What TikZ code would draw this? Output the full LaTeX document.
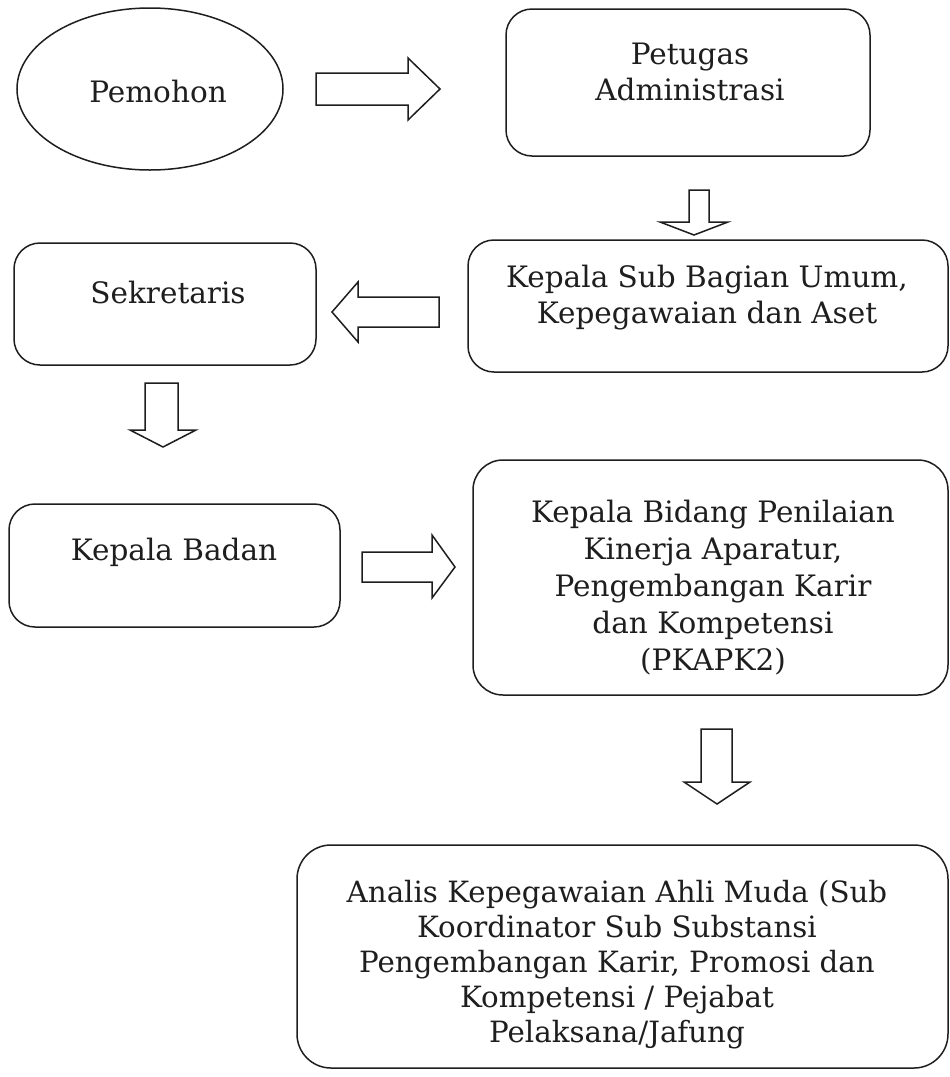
\documentclass[tikz,border=0pt]{standalone}
\usepackage{fontspec}
\setmainfont{DejaVu Serif}
\usetikzlibrary{shapes.geometric}
\definecolor{ink}{HTML}{1E1E1E}
\begin{document}
\begin{tikzpicture}[x=1pt,y=-1pt,
  box/.style={draw=ink, line width=1.5pt, rounded corners=26pt},
  txt/.style={align=center, text=ink, font=\fontsize{29.5}{35.5}\selectfont, inner sep=0pt, anchor=base},
  blockarrow/.style={draw=ink, line width=1.5pt, fill=white, line join=miter}]
\useasboundingbox (0,0) rectangle (950,1077);
\fill[white] (0,0) rectangle (950,1077);

% Pemohon
\node[draw=ink, line width=1.5pt, ellipse, minimum width=266pt, minimum height=162pt, inner sep=0pt] (pemohon) at (150,89) {};
\node[txt] (pemohon-t) at (158,102) {Pemohon};

% Petugas Administrasi
\draw[box] (506,9) rectangle (870,156);
\node[txt] (petugas-t) at (690,100) {Petugas\\Administrasi};

% Kepala Sub Bagian
\draw[box] (468,240) rectangle (948,372);
\node[txt] (ksb-t) at (707,323) {Kepala Sub Bagian Umum,\\Kepegawaian dan Aset};

% Sekretaris
\draw[box] (14,243) rectangle (316,365);
\node[txt] (sek-t) at (168,303) {Sekretaris};

% Kepala Badan
\draw[box] (9,504) rectangle (340,627);
\node[txt] (kb-t) at (174,560) {Kepala Badan};

% PKAPK2
\draw[box, rounded corners=30pt] (473,460) rectangle (948,695);
\node[txt, font=\fontsize{29.5}{37}\selectfont] (pk-t) at (713,670) {Kepala Bidang Penilaian\\Kinerja Aparatur,\\Pengembangan Karir\\dan Kompetensi\\(PKAPK2)};

% Analis
\draw[box, rounded corners=34pt] (297,845) rectangle (948,1068);
\node[txt, font=\fontsize{29.3}{35}\selectfont] (an-t) at (617,1042) {Analis Kepegawaian Ahli Muda (Sub\\Koordinator Sub Substansi\\Pengembangan Karir, Promosi dan\\Kompetensi / Pejabat\\Pelaksana/Jafung};

% Block arrows
\draw[blockarrow] (316,73) -- (408,73) -- (408,58) -- (440,89) -- (408,120) -- (408,105) -- (316,105) -- cycle;
\draw[blockarrow] (689,190) -- (709,190) -- (709,222) -- (728,222) -- (694,235) -- (660,222) -- (689,222) -- cycle;
\draw[blockarrow] (439,297) -- (358,297) -- (358,282) -- (332,312) -- (358,342) -- (358,327) -- (439,327) -- cycle;
\draw[blockarrow] (145,383) -- (178,383) -- (178,430) -- (196,430) -- (163,447) -- (130,430) -- (145,430) -- cycle;
\draw[blockarrow] (362,552) -- (432,552) -- (432,535) -- (455,567) -- (432,598) -- (432,582) -- (362,582) -- cycle;
\draw[blockarrow] (701,729) -- (732,729) -- (732,782) -- (750,782) -- (717,804) -- (684,782) -- (701,782) -- cycle;
\end{tikzpicture}
\end{document}
